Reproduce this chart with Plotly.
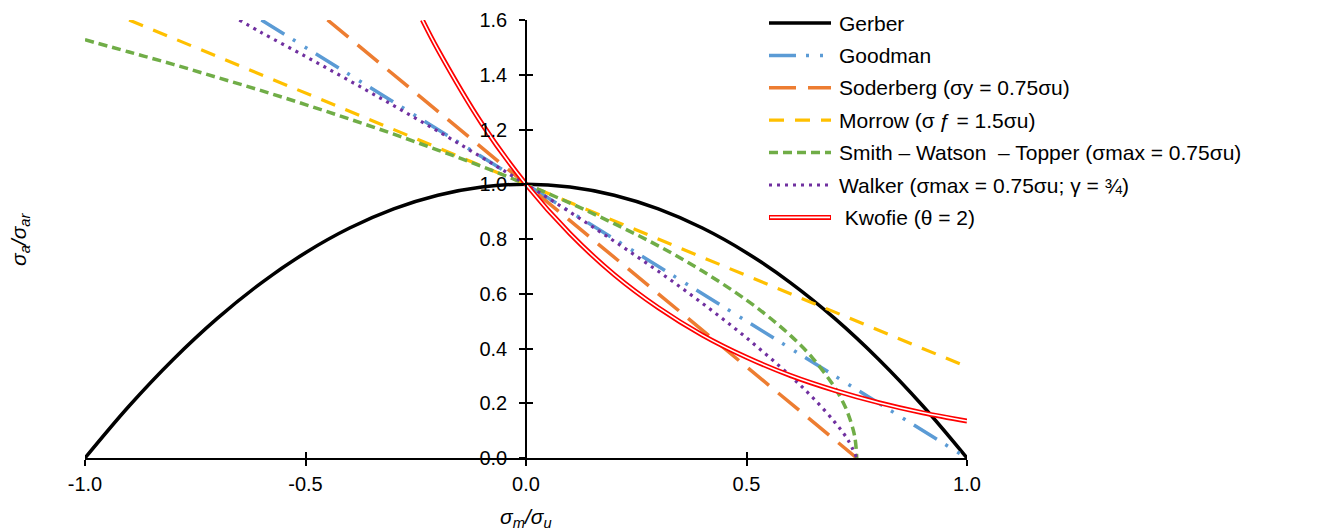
import plotly.graph_objects as go

# ---- curve data (normalised mean stress vs. normalised amplitude) ----
GERBER_X = [-1.0, -0.9, -0.8, -0.7, -0.6, -0.5, -0.4, -0.3, -0.2, -0.1, 0.0,
            0.1, 0.2, 0.3, 0.4, 0.5, 0.6, 0.7, 0.8, 0.9, 1.0]
GERBER_Y = [0.00, 0.19, 0.36, 0.51, 0.64, 0.75, 0.84, 0.91, 0.96, 0.99, 1.00,
            0.99, 0.96, 0.91, 0.84, 0.75, 0.64, 0.51, 0.36, 0.19, 0.00]

GOODMAN_X = [-0.6, 0.0, 1.0]
GOODMAN_Y = [1.6, 1.0, 0.0]

SODERBERG_X = [-0.45, 0.0, 0.75]
SODERBERG_Y = [1.6, 1.0, 0.0]

MORROW_X = [-0.9, 0.0, 1.0]
MORROW_Y = [1.6, 1.0, 0.333]

SWT_X = [-1.0, -0.9, -0.8, -0.7, -0.6, -0.5, -0.4, -0.3, -0.2, -0.1, 0.0,
         0.1, 0.2, 0.3, 0.4, 0.5, 0.55, 0.6, 0.65, 0.7, 0.72, 0.73, 0.745, 0.75]
SWT_Y = [1.528, 1.483, 1.438, 1.390, 1.342, 1.291, 1.238, 1.183, 1.125, 1.065, 1.000,
         0.931, 0.856, 0.775, 0.683, 0.577, 0.516, 0.447, 0.365, 0.258, 0.200, 0.163,
         0.082, 0.000]

WALKER_X = [-0.65, -0.6, -0.5, -0.4, -0.3, -0.2, -0.1, 0.0, 0.1, 0.2, 0.3,
            0.4, 0.5, 0.6, 0.65, 0.7, 0.73, 0.75]
WALKER_Y = [1.600, 1.554, 1.467, 1.378, 1.287, 1.194, 1.098, 1.000, 0.898, 0.792, 0.682,
            0.565, 0.439, 0.299, 0.221, 0.131, 0.066, 0.000]

KWOFIE_X = [-0.235, -0.2, -0.1, 0.0, 0.1, 0.2, 0.3, 0.4, 0.5, 0.6, 0.7, 0.8, 0.9, 1.0]
KWOFIE_Y = [1.600, 1.492, 1.221, 1.000, 0.819, 0.670, 0.549, 0.449, 0.368, 0.301,
            0.247, 0.202, 0.165, 0.135]

X_TICKS = [-1.0, -0.5, 0.0, 0.5, 1.0]
X_TICK_TEXT = ["-1.0", "-0.5", "0.0", "0.5", "1.0"]
Y_TICKS = [0.0, 0.2, 0.4, 0.6, 0.8, 1.0, 1.2, 1.4, 1.6]
Y_TICK_TEXT = ["0.0", "0.2", "0.4", "0.6", "0.8", "1.0", "1.2", "1.4", "1.6"]

NAMES = [
    "Gerber",
    "Goodman",
    "Soderberg (σy = 0.75σu)",
    "Morrow (σ\u2009ƒ = 1.5σu)",
    "Smith – Watson \u00a0– Topper (σmax = 0.75σu)",
    "Walker (σmax = 0.75σu; γ = ¾)",
    "\u00a0Kwofie (θ = 2)",
]

# ---- page geometry (pixels) ----
W, H = 1331, 531
PL, PR, PT, PB = 85, 967, 20, 458
FONT = "Arial, 'Liberation Sans', sans-serif"

xdom = [PL / W, PR / W]
ydom = [(H - PB) / H, (H - PT) / H]
ypos = (PL + PR) / 2 / W  # vertical axis sits at x = 0

STYLES = [
    dict(color="#000000", width=3.5, dash="solid"),
    dict(color="#5B9BD5", width=3.5, dash="27px,10px,3px,11px,3px,10px"),
    dict(color="#ED7D31", width=3.5, dash="27px,12px"),
    dict(color="#FFC000", width=3.2, dash="15px,11px"),
    dict(color="#70AD47", width=3.5, dash="9px,5px"),
    dict(color="#7030A0", width=3.2, dash="3px,5px"),
]

fig = go.Figure()

series = [
    (GERBER_X, GERBER_Y, "spline"),
    (GOODMAN_X, GOODMAN_Y, "linear"),
    (SODERBERG_X, SODERBERG_Y, "linear"),
    (MORROW_X, MORROW_Y, "linear"),
    (SWT_X, SWT_Y, "spline"),
    (WALKER_X, WALKER_Y, "spline"),
]
for (xs, ys, shape), st in zip(series, STYLES):
    fig.add_trace(go.Scatter(x=xs, y=ys, mode="lines", showlegend=False,
                             line=dict(shape=shape, **st), hoverinfo="skip"))

# Kwofie: double red line (red stroke with a white core)
fig.add_trace(go.Scatter(x=KWOFIE_X, y=KWOFIE_Y, mode="lines", showlegend=False,
                         line=dict(color="#FF0000", width=5, shape="spline"), hoverinfo="skip"))
fig.add_trace(go.Scatter(x=KWOFIE_X, y=KWOFIE_Y, mode="lines", showlegend=False,
                         line=dict(color="#FFFFFF", width=1.6, shape="spline"), hoverinfo="skip"))

# empty trace to bring up the overlay axes carrying the inner half of each tick
fig.add_trace(go.Scatter(x=[], y=[], xaxis="x3", yaxis="y3", showlegend=False))

# ---- legend keys, drawn on a pixel-space overlay ----
LEG_X0, LEG_X1, LEG_TX = 769, 831, 837
LEG_Y0, LEG_DY = 23, 32.4
annotations = []
for i, name in enumerate(NAMES):
    yy = LEG_Y0 + i * LEG_DY
    if i < len(STYLES):
        fig.add_trace(go.Scatter(x=[LEG_X0, LEG_X1], y=[yy, yy], xaxis="x2", yaxis="y2",
                                 mode="lines", showlegend=False, line=STYLES[i], hoverinfo="skip"))
    else:
        fig.add_trace(go.Scatter(x=[LEG_X0, LEG_X1], y=[yy, yy], xaxis="x2", yaxis="y2",
                                 mode="lines", showlegend=False,
                                 line=dict(color="#FF0000", width=5), hoverinfo="skip"))
        fig.add_trace(go.Scatter(x=[LEG_X0 + 1, LEG_X1 - 1], y=[yy, yy], xaxis="x2", yaxis="y2",
                                 mode="lines", showlegend=False,
                                 line=dict(color="#FFFFFF", width=1.6), hoverinfo="skip"))
    annotations.append(dict(x=LEG_TX, y=yy, xref="x2", yref="y2", text=name,
                            showarrow=False, xanchor="left", yanchor="middle",
                            font=dict(family=FONT, size=21, color="#000000")))

# axis titles
annotations.append(dict(x=(PL + PR) / 2, y=518, xref="x2", yref="y2",
                        text="<i>σ<sub>m</sub>/σ<sub>u</sub></i>", showarrow=False,
                        xanchor="center", yanchor="middle",
                        font=dict(family=FONT, size=21, color="#000000")))
annotations.append(dict(x=20, y=(PT + PB) / 2, xref="x2", yref="y2",
                        text="<i>σ<sub>a</sub>/σ<sub>ar</sub></i>", showarrow=False,
                        textangle=-90, xanchor="center", yanchor="middle",
                        font=dict(family=FONT, size=21, color="#000000")))

tickfont = dict(family=FONT, size=20, color="#000000")
fig.update_layout(
    width=W, height=H,
    margin=dict(l=0, r=0, t=0, b=0, autoexpand=False),
    paper_bgcolor="white", plot_bgcolor="rgba(0,0,0,0)",
    showlegend=False,
    xaxis=dict(domain=xdom, range=[-1, 1], anchor="y", tickvals=X_TICKS, ticktext=X_TICK_TEXT,
               showline=True, linecolor="black", linewidth=1.5, ticks="outside", ticklen=6,
               tickwidth=1.5, tickcolor="black", showgrid=False, zeroline=False,
               tickfont=tickfont, ticklabelstandoff=1, automargin=False),
    yaxis=dict(domain=ydom, range=[0, 1.6], anchor="free", position=ypos,
               tickvals=Y_TICKS, ticktext=Y_TICK_TEXT,
               showline=True, linecolor="black", linewidth=1.5, ticks="outside", ticklen=6,
               tickwidth=1.5, tickcolor="black", showgrid=False, zeroline=False,
               tickfont=tickfont, ticklabelstandoff=8, automargin=False),
    xaxis3=dict(overlaying="x", range=[-1, 1], anchor="y", tickvals=X_TICKS,
                ticks="inside", ticklen=6, tickwidth=1.5, tickcolor="black",
                showticklabels=False, showline=False, showgrid=False, zeroline=False,
                automargin=False),
    yaxis3=dict(overlaying="y", range=[0, 1.6], anchor="free", position=ypos, tickvals=Y_TICKS,
                ticks="inside", ticklen=6, tickwidth=1.5, tickcolor="black",
                showticklabels=False, showline=False, showgrid=False, zeroline=False,
                automargin=False),
    xaxis2=dict(domain=[0, 1], range=[0, W], anchor="y2", visible=False, fixedrange=True,
                automargin=False),
    yaxis2=dict(domain=[0, 1], range=[H, 0], anchor="x2", visible=False, fixedrange=True,
                automargin=False),
    annotations=annotations,
)

fig.write_html("out.html")
